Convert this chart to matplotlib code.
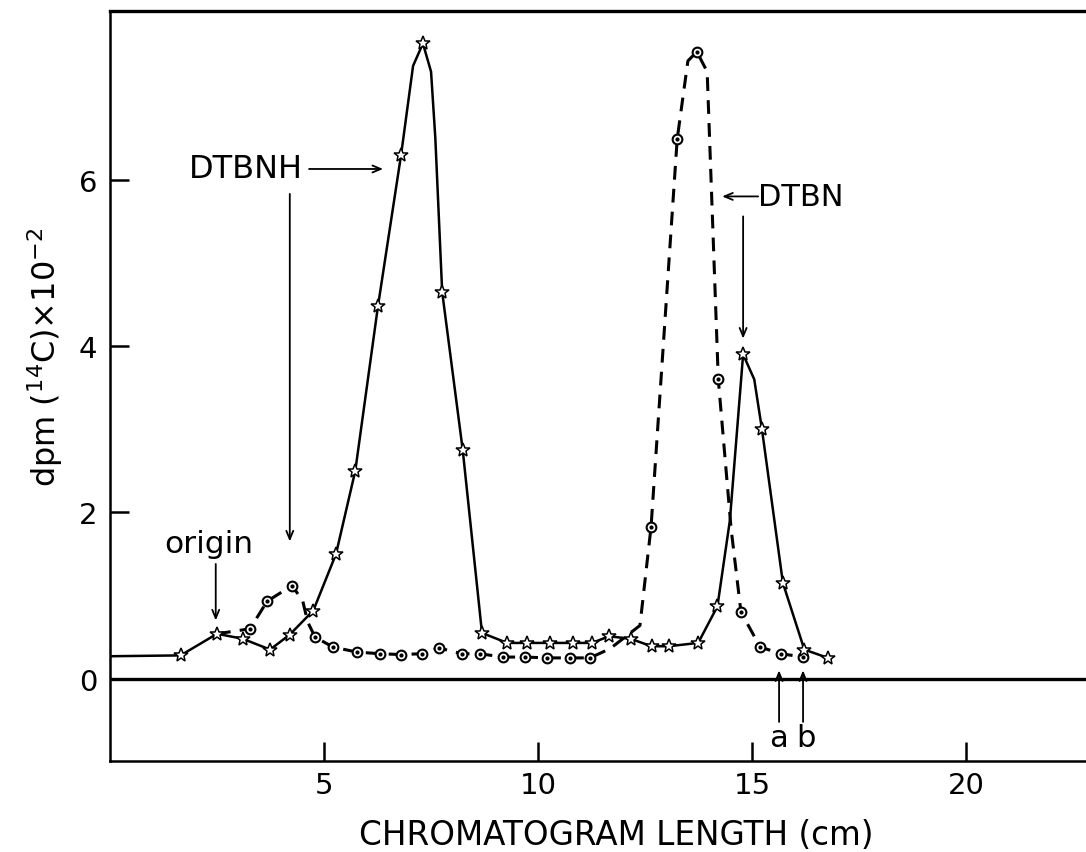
import matplotlib
matplotlib.use("Agg")
import matplotlib.pyplot as plt

# ---- data ----
# solid curve with star markers
solid_x = [0.0, 1.65, 2.5, 3.1, 3.74, 4.2, 4.75, 5.28, 5.73, 6.26, 6.8, 7.08, 7.31, 7.5, 7.6,
           7.76, 8.24, 8.69, 9.28, 9.73, 10.27, 10.82, 11.26, 11.66, 12.16, 12.65, 13.05,
           13.74, 14.19, 14.48, 14.79, 15.05, 15.23, 15.72, 16.22, 16.77]
solid_y = [0.27, 0.28, 0.54, 0.48, 0.35, 0.53, 0.82, 1.5, 2.5, 4.48, 6.3, 7.37, 7.64, 7.3, 6.5,
           4.65, 2.75, 0.55, 0.43, 0.43, 0.43, 0.43, 0.43, 0.51, 0.48, 0.39, 0.39,
           0.43, 0.87, 1.9, 3.9, 3.6, 3.0, 1.15, 0.35, 0.25]
solid_marks = [1, 2, 3, 4, 5, 6, 7, 8, 9, 10, 12, 15, 16, 17, 18, 19, 20, 21, 22, 23, 24,
               25, 26, 27, 28, 30, 32, 33, 34, 35]

# dashed curve with circle markers
dash_x = [2.5, 3.27, 3.67, 4.25, 4.5, 4.62, 4.79, 5.21, 5.77, 6.31, 6.8, 7.28, 7.68, 8.22,
          8.64, 9.18, 9.7, 10.21, 10.75, 11.21, 11.68, 12.38, 12.64, 13.25, 13.5, 13.71,
          13.95, 14.21, 14.51, 14.74, 15.19, 15.68, 16.19]
dash_y = [0.54, 0.6, 0.93, 1.12, 0.94, 0.68, 0.5, 0.38, 0.32, 0.3, 0.29, 0.3, 0.37, 0.3,
          0.3, 0.26, 0.26, 0.25, 0.25, 0.25, 0.36, 0.64, 1.83, 6.49, 7.43, 7.54,
          7.3, 3.6, 1.8, 0.8, 0.38, 0.3, 0.26]
dash_marks = [1, 2, 3, 6, 7, 8, 9, 10, 11, 12, 13, 14, 15, 16, 17, 18, 19, 22, 23, 25,
              27, 29, 30, 31, 32]

x_ticks = [5, 10, 15, 20]
y_ticks = [0, 2, 4, 6]

plt.rcParams['font.family'] = ['DejaVu Sans']

fig = plt.figure(figsize=(10.86, 8.53), dpi=100)
ax = fig.add_axes([110 / 1086, 1 - 762 / 853, 976 / 1086, 750 / 853])
ax.set_xlim(0, 22.8)
ax.set_ylim(-0.99, 8.03)

ax.axhline(0, color='black', lw=2.4, zorder=1)

ax.plot(solid_x, solid_y, color='black', lw=1.8, marker='*', ms=10,
        mfc='white', mec='black', mew=1.1, markevery=solid_marks, zorder=3)

ax.plot(dash_x, dash_y, color='black', lw=2.2, ls=(0, (4.5, 3)), marker='o', ms=7,
        mfc='white', mec='black', mew=1.5, markevery=dash_marks, zorder=2)
ax.plot([dash_x[i] for i in dash_marks], [dash_y[i] for i in dash_marks], ls='none',
        marker='o', ms=2, color='black', zorder=4)

# spines and ticks
ax.spines['right'].set_visible(False)
ax.spines['top'].set_linewidth(2.4)
ax.spines['left'].set_linewidth(1.8)
ax.spines['bottom'].set_linewidth(1.8)
ax.set_xticks(x_ticks)
ax.set_yticks(y_ticks)
ax.tick_params(axis='both', direction='in', length=14, width=1.8, labelsize=21)
ax.tick_params(axis='x', pad=7)
ax.tick_params(axis='y', pad=9)

fig.text(45 / 1086, 1 - 357 / 853, r'dpm (${}^{14}$C)$\times$10$^{-2}$', rotation=90,
         ha='center', va='center', fontsize=23)
fig.text(616 / 1086, 1 - 845 / 853, 'CHROMATOGRAM LENGTH (cm)', ha='center',
         va='baseline', fontsize=23.5)

arrow = dict(arrowstyle='->,head_length=0.6,head_width=0.25', lw=1.3, color='black',
             shrinkA=0, shrinkB=0)

# annotations
ax.text(2.31, 1.62, 'origin', ha='center', va='center', fontsize=22.5)
ax.annotate('', xy=(2.47, 0.7), xytext=(2.47, 1.38), arrowprops=arrow)

ax.text(1.85, 6.13, 'DTBNH', ha='left', va='center', fontsize=23)
ax.annotate('', xy=(6.38, 6.13), xytext=(4.65, 6.13), arrowprops=arrow)
ax.annotate('', xy=(4.2, 1.65), xytext=(4.2, 5.83), arrowprops=arrow)

ax.text(15.14, 5.8, 'DTBN', ha='left', va='center', fontsize=22)
ax.annotate('', xy=(14.3, 5.8), xytext=(15.14, 5.8), arrowprops=arrow)
ax.annotate('', xy=(14.79, 4.09), xytext=(14.79, 5.56), arrowprops=arrow)

ax.annotate('', xy=(15.63, 0.1), xytext=(15.63, -0.52), arrowprops=arrow)
ax.annotate('', xy=(16.19, 0.1), xytext=(16.19, -0.52), arrowprops=arrow)
ax.text(15.61, -0.71, 'a', ha='center', va='center', fontsize=22)
ax.text(16.26, -0.71, 'b', ha='center', va='center', fontsize=22)

fig.savefig('out.png', dpi=100)
